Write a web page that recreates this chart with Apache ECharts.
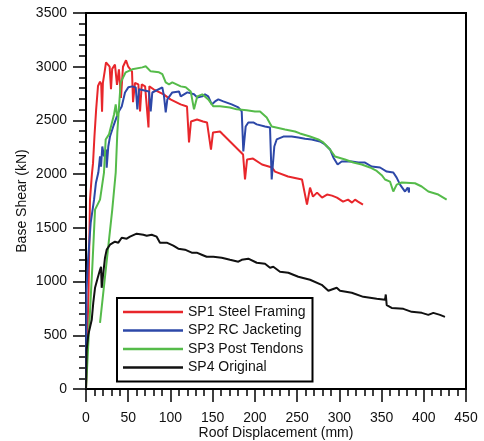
<!DOCTYPE html>
<html>
<head>
<meta charset="utf-8">
<script src="https://cdn.jsdelivr.net/npm/echarts@6/dist/echarts.min.js"></script>
<style>html,body{margin:0;padding:0;background:#fff;}#c{width:484px;height:441px;}</style>
</head>
<body>
<div id="c"></div>
<script>
const seriesNames = ['SP1 Steel Framing', 'SP2 RC Jacketing', 'SP3 Post Tendons', 'SP4 Original'];
const xTicks = [0, 50, 100, 150, 200, 250, 300, 350, 400, 450];
const yTicks = [0, 500, 1000, 1500, 2000, 2500, 3000, 3500];

const sp1 = [[0,0],[1,300],[2,615],[3,900],[4.7,1760],[7,2000],[8.3,2100],[10,2350],[12,2600],[14.2,2820],[16.6,2860],[18,2840],[19,2580],[20,2850],[22,2950],[23.7,3040],[26,3040],[28,3000],[29.6,2790],[31,2980],[34.3,3020],[36.7,2830],[39,2975],[41.4,2710],[43.8,3000],[47.4,3060],[50,3000],[52,2990],[54.5,2955],[55.7,2670],[58,2850],[62,2836],[64,2584],[66,2836],[70,2817],[74,2435],[75,2817],[80,2790],[92,2742],[100,2696],[112,2649],[119.6,2630],[122,2295],[124.3,2490],[131.5,2509],[138.6,2490],[143.3,2481],[148,2229],[150.4,2388],[158.7,2397],[162.2,2369],[186,2183],[188.3,1950],[190.7,2136],[197.8,2145],[208.4,2090],[220.3,2062],[223.8,2024],[239.2,1978],[255.8,1950],[261.7,1716],[265.3,1875],[268.8,1791],[273.6,1828],[279.5,1782],[285.4,1810],[291.3,1800],[297.2,1782],[304.4,1744],[310.3,1763],[315,1735],[318.6,1763],[322.1,1744],[328,1716]];

const sp2 = [[0,0],[0.6,920],[2.4,1200],[5.6,1550],[9.5,1760],[11.8,1920],[14.6,2015],[16.6,2165],[17.8,2070],[19.3,2257],[21.3,2165],[23.7,2230],[24.5,2060],[26.4,2257],[28.4,2350],[32.3,2444],[38.3,2575],[42.3,2630],[46.2,2760],[50.1,2808],[54.8,2817],[58.9,2808],[60.8,2603],[62.8,2790],[74.6,2770],[76.6,2584],[78.5,2760],[90.4,2808],[92.4,2724],[94.4,2574],[96.3,2696],[102.2,2761],[110.1,2770],[112.2,2724],[120,2761],[127.9,2743],[131.8,2714],[137.7,2724],[140.9,2743],[144.8,2724],[148.9,2649],[152.8,2677],[156.7,2696],[162.6,2677],[172.5,2649],[180.4,2621],[184.4,2584],[186.3,2211],[189.1,2444],[192.2,2481],[198.1,2481],[202.2,2463],[212,2444],[217.9,2435],[219.9,1950],[223,2257],[225.8,2323],[233.7,2350],[243.6,2350],[251.4,2341],[259.4,2330],[267.3,2323],[277.1,2304],[283,2276],[289,2230],[292.9,2155],[298,2090],[302.8,2118],[314.7,2118],[322.5,2108],[330.4,2108],[338.3,2071],[348.2,2062],[356.1,2024],[363.9,2015],[367.9,1968],[371.9,1903],[377.8,1838],[381,1875],[382.5,1828],[382.5,1875]];

const sp3Loading = [[0,0],[3.6,550],[7.5,1138],[10.7,1670],[16.6,1763],[21.3,2015],[23.3,2323],[27.2,2370],[33.2,2556],[35.2,2650],[36.8,2540]];

const sp3Reload = [[16.6,615],[31.1,1670],[35.2,2015],[37.1,2388],[39.1,2630],[41.1,2854],[47,2948],[54.8,2976],[56.8,2994],[66.7,2994],[70.7,3004],[76.6,2957],[86.5,2948],[90.4,2930],[94.4,2854],[98.3,2836],[102.2,2854],[112.2,2817],[118.1,2808],[124,2770],[127.9,2603],[131.8,2724],[137.7,2743],[144.8,2696],[150.8,2631],[158.7,2631],[170.5,2621],[178.5,2603],[190.3,2594],[200.1,2584],[206.1,2584],[214,2528],[219.9,2444],[235.7,2416],[247.5,2397],[253.4,2379],[265.3,2351],[275.1,2323],[281,2295],[289,2229],[294.9,2164],[306.7,2136],[316.6,2108],[326.5,2090],[336.3,2062],[344.3,2030],[350.2,1990],[354.1,1950],[360,1931],[363.9,1838],[367.9,1903],[373.9,1922],[389.6,1915],[397.5,1885],[405.4,1838],[417.2,1810],[427.1,1763]];

const sp4 = [[0,0],[0.8,364],[2.7,504],[4.7,522],[6.8,644],[8.6,802],[10.7,942],[13.9,1035],[16.6,1110],[17.8,1138],[18.6,942],[20.5,1082],[22.5,1222],[24.5,1297],[28.4,1343],[34.3,1371],[38.3,1362],[42.3,1408],[48.2,1399],[52.1,1418],[60,1446],[67.9,1436],[71.9,1427],[77.8,1436],[83.7,1418],[87.6,1362],[95.6,1362],[103.4,1334],[109.3,1306],[117.2,1297],[125.2,1269],[131.1,1269],[137,1250],[142.9,1231],[150.8,1231],[160.7,1222],[170.5,1203],[180.4,1185],[184.4,1203],[192.2,1213],[202.2,1175],[212,1166],[217.9,1129],[221.8,1138],[229.7,1091],[239.6,1082],[251.4,1045],[265.3,1017],[279.1,970],[287,914],[296.9,942],[300.8,914],[314.7,896],[328.4,858],[344.3,840],[354.1,830],[355,880],[356.1,780],[362,755],[375.8,746],[385.7,718],[397.6,709],[405.4,690],[411.3,709],[419.2,690],[425.1,672]];

const colors = ['#e8262b', '#2d48a8', '#55bb4a', '#111111'];
const FONT = '"Liberation Sans", Arial, sans-serif';

const sp3 = sp3Loading.concat([['-', '-']], sp3Reload);
const allData = [sp1, sp2, sp3, sp4];

const chart = echarts.init(document.getElementById('c'), null, {renderer: 'canvas'});
function makeAxis(extra, labelMargin) {
  return Object.assign({
    type: 'value',
    axisLine: {show: true, onZero: false, lineStyle: {color: '#000', width: 2}},
    axisTick: {show: true, length: 13, lineStyle: {color: '#000', width: 1.5}},
    minorTick: {show: true, splitNumber: 5, length: 7, lineStyle: {color: '#000', width: 1.5}},
    splitLine: {show: false},
    minorSplitLine: {show: false},
    axisLabel: {show: true, color: '#111', fontSize: 14, fontFamily: FONT, margin: labelMargin, formatter: v => String(v)},
    nameMoveOverlap: false,
    nameTextStyle: {color: '#111', fontSize: 14, fontFamily: FONT}
  }, extra);
}
chart.setOption({
  animation: false,
  backgroundColor: '#fff',
  grid: {left: 86, right: 18, top: 13, bottom: 52, show: true, borderColor: '#000', borderWidth: 2, containLabel: false, outerBoundsMode: 'none'},
  xAxis: makeAxis({
    min: xTicks[0], max: xTicks[xTicks.length - 1], interval: 50,
    name: 'Roof Displacement (mm)', nameLocation: 'middle', nameGap: 37
  }, 22),
  yAxis: makeAxis({
    min: yTicks[0], max: yTicks[yTicks.length - 1], interval: 500,
    name: 'Base Shear (kN)', nameLocation: 'middle', nameGap: 57, nameRotate: 90
  }, 19),
  legend: {
    orient: 'vertical', left: 117, top: 298,
    padding: [7, 7, 7, 6], itemGap: 4.5, itemWidth: 60, itemHeight: 2.5,
    icon: 'rect',
    borderColor: '#000', borderWidth: 2, backgroundColor: '#fff',
    textStyle: {color: '#111', fontSize: 14, fontFamily: FONT},
    data: seriesNames
  },
  series: allData.map((d, i) => ({
    name: seriesNames[i], type: 'line', data: d, symbol: 'none', showSymbol: false,
    lineStyle: {color: colors[i], width: 2}, itemStyle: {color: colors[i]},
    connectNulls: false, z: 2 + i
  }))
});
</script>
</body>
</html>
